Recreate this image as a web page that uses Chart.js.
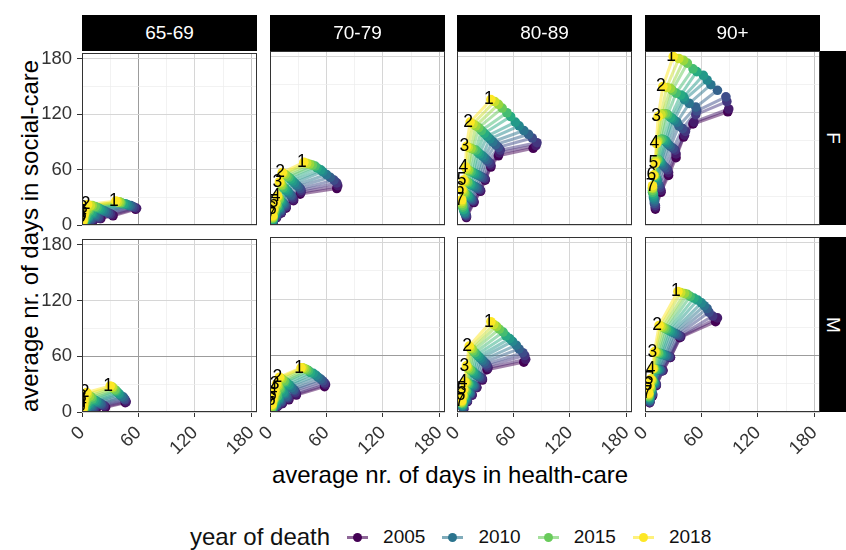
<!DOCTYPE html>
<html>
<head>
<meta charset="utf-8">
<script src="https://cdn.jsdelivr.net/npm/chart.js@4.4.1/dist/chart.umd.min.js"></script>
<style>
  body { margin:0; background:#fff; width:846px; height:550px; overflow:hidden; position:relative;
         font-family:"Liberation Sans", Arial, sans-serif; }
  canvas.pc { position:absolute; }
  .strip { position:absolute; background:#000; color:#fff; font-size:19px;
           display:flex; align-items:center; justify-content:center; }
  .strip span.rot { display:inline-block; transform:rotate(90deg); }
  .title { position:absolute; font-size:24px; color:#000; white-space:nowrap; text-align:center; }
  #legend { position:absolute; left:190px; top:523px; height:28px; display:flex; align-items:center;
            font-size:19px; color:#111; white-space:nowrap; }
  #legend .lt { font-size:24px; }
  #legend .key { position:relative; width:21px; height:20px; margin-left:17px; }
  #legend .key i { position:absolute; left:0; top:9px; width:21px; height:2.5px; }
  #legend .key b { position:absolute; left:6px; top:6px; width:9px; height:9px; border-radius:50%; }
  #legend .lab { margin-left:15px; }
</style>
</head>
<body>
<div class="title" style="left:250px;top:461px;width:400px;">average nr. of days in health-care</div>
<div class="title" style="left:-170px;top:222px;width:400px;transform:rotate(-90deg);">average nr. of days in social-care</div>
<div id="legend"></div>

<script>
// facets
const ageGroups = ['65-69', '70-79', '80-89', '90+'];
const sexes = ['F', 'M'];
const years = [2005, 2006, 2007, 2008, 2009, 2010, 2011, 2012, 2013, 2014, 2015, 2016, 2017, 2018];
const monthLabels = ['1', '2', '3', '4', '5', '6', '7'];
const gridValues = [0, 30, 60, 90, 120, 150, 180];
const tickLabels = [0, 60, 120, 180];
const legendYears = [2005, 2010, 2015, 2018];

// one row per month before death (1..7), one value per year 2005..2018
const F65_x = [
  [57,58,56,54,52,50,48,46,44,42,41,40,38,36],
  [33,32,30,28,26,24,22,20,18,16,14,11,9,6],
  [20,19,18,17,15,14,12,11,10,8,7,6,4,3],
  [12,12,11,10,9,8,7,7,6,5,4,3,3,2],
  [7,7,7,6,6,5,5,4,4,3,3,2,2,2],
  [4,4,4,4,3,3,3,3,2,2,2,2,1,1],
  [2,2,2,2,2,2,2,1,1,1,1,1,1,1]];
const F65_y = [
  [17,18,19,20,21,21,22,23,23,24,24,25,25,26],
  [10,11,12,13,14,15,16,17,18,19,20,21,21,22],
  [7,7,8,9,10,11,12,13,14,15,16,17,17,18],
  [5,5,6,6,7,8,8,9,10,11,12,13,13,14],
  [3,3,4,4,5,5,6,6,7,7,8,9,10,11],
  [2,2,2,3,3,3,4,4,4,5,5,6,7,8],
  [1,1,1,1,1,2,2,2,2,3,3,3,4,5]];

const F70_x = [
  [71,72,71,68,64,60,56,54,50,48,45,42,39,36],
  [32,33,33,32,30,28,26,24,22,20,18,16,14,13],
  [25,25,24,23,22,20,19,17,16,14,13,12,11,10],
  [17,17,17,16,15,14,13,12,11,10,10,9,8,8],
  [12,12,12,11,11,10,10,9,8,8,7,7,6,6],
  [7,7,7,7,6,6,6,5,5,5,5,4,4,4],
  [3,3,3,3,3,3,3,3,3,3,3,3,3,3]];
const F70_y = [
  [39,42,45,48,51,54,57,59,61,63,64,65,66,67],
  [33,35,37,39,41,43,45,47,49,51,52,54,55,56],
  [26,27,29,31,32,34,36,37,39,40,42,43,45,46],
  [18,19,20,21,22,23,24,25,26,27,28,29,30,31],
  [13,13,14,15,16,17,18,18,19,20,21,22,23,24],
  [8,8,9,10,10,11,12,12,13,14,15,15,16,17],
  [2,2,3,3,4,4,5,5,6,7,7,8,9,10]];

const F80_x = [
  [81,84,85,80,76,71,66,62,57,53,48,44,40,36],
  [44,45,46,44,41,38,35,32,29,26,23,20,17,14],
  [36,36,35,33,31,29,27,24,22,20,17,15,12,10],
  [30,30,29,27,25,23,21,19,17,15,13,12,10,9],
  [25,25,24,22,21,19,17,15,14,12,11,9,8,7],
  [18,18,17,16,15,14,13,12,11,9,8,7,6,5],
  [10,10,10,9,9,8,8,7,7,6,6,5,5,5]];
const F80_y = [
  [82,85,88,93,97,101,106,110,116,120,125,129,132,134],
  [74,77,80,83,86,89,92,95,98,101,104,106,108,110],
  [62,64,66,68,70,72,74,76,78,80,81,82,83,84],
  [48,49,50,51,52,53,54,55,56,57,58,59,60,62],
  [36,37,38,39,40,41,42,43,44,45,46,46,47,48],
  [24,25,26,27,28,29,30,31,32,33,34,35,37,38],
  [8,9,10,11,12,13,14,16,17,19,21,23,25,27]];

const F90_x = [
  [88,89,87,86,77,70,66,62,55,51,45,41,36,30],
  [51,52,54,55,54,47,42,41,38,33,29,27,23,19],
  [41,42,43,40,36,34,31,29,27,24,22,19,17,14],
  [33,33,32,30,27,25,23,22,20,18,16,14,13,12],
  [25,25,24,22,20,18,17,16,15,14,13,12,11,11],
  [17,17,16,15,14,13,13,12,11,11,10,10,9,9],
  [11,11,11,10,10,10,9,9,9,8,8,8,8,8]];
const F90_y = [
  [121,124,132,137,144,150,155,160,164,167,173,176,178,180],
  [108,110,118,122,126,130,134,137,139,141,144,146,147,148],
  [94,96,100,103,106,110,112,114,115,118,119,119,118,116],
  [72,76,80,82,84,86,88,90,91,92,91,90,89,87],
  [53,56,59,61,63,65,67,68,69,70,70,69,68,66],
  [35,37,40,42,44,46,48,50,51,52,53,53,53,53],
  [17,19,21,23,25,27,29,31,33,35,37,39,40,42]];

const M65_x = [
  [46,47,46,45,44,42,40,39,37,36,35,33,32,30],
  [25,24,23,21,20,18,16,15,13,11,10,8,6,5],
  [15,14,13,12,11,10,9,8,7,6,5,4,3,2],
  [9,9,8,8,7,6,6,5,5,4,3,3,2,2],
  [5,5,5,5,4,4,4,3,3,3,2,2,2,1],
  [3,3,3,3,3,2,2,2,2,2,2,1,1,1],
  [1,1,1,1,1,1,1,1,1,1,1,1,1,1]];
const M65_y = [
  [10,11,13,14,16,17,19,20,22,23,24,26,27,28],
  [5,6,7,8,9,10,11,12,13,14,16,17,19,21],
  [3,4,4,5,6,7,8,9,10,11,12,13,14,16],
  [2,2,3,3,4,5,5,6,7,8,9,10,11,12],
  [1,1,2,2,2,3,3,4,5,5,6,7,8,9],
  [1,1,1,1,2,2,2,3,3,3,4,4,5,6],
  [0,0,1,1,1,1,1,2,2,2,2,3,3,4]];

const M70_x = [
  [58,59,58,56,54,51,49,46,43,41,39,37,35,33],
  [28,28,27,26,25,23,21,20,18,16,15,13,11,10],
  [20,20,19,18,17,16,15,14,12,11,10,9,8,7],
  [13,13,12,12,11,10,10,9,8,8,7,6,6,5],
  [8,8,8,7,7,7,6,6,6,5,5,5,4,4],
  [4,4,4,4,4,4,4,4,3,3,3,3,3,3],
  [2,2,2,2,2,2,2,2,2,2,2,2,2,2]];
const M70_y = [
  [27,29,31,33,35,37,39,41,42,44,45,46,47,47],
  [18,19,21,23,24,26,28,29,31,32,33,35,36,37],
  [13,14,15,16,17,19,20,21,23,24,25,27,28,30],
  [9,9,10,11,12,13,14,15,16,17,19,20,21,23],
  [6,6,7,7,8,9,10,11,12,13,14,15,16,18],
  [3,3,4,4,5,5,6,7,8,8,9,10,12,13],
  [1,1,1,2,2,2,3,3,4,4,5,6,7,8]];

const M80_x = [
  [71,73,72,70,66,63,59,56,52,49,45,42,39,36],
  [32,33,32,31,29,27,25,23,21,19,17,16,14,13],
  [27,27,26,24,23,21,20,18,17,15,14,12,11,10],
  [21,21,20,19,18,17,16,14,13,12,11,10,9,8],
  [16,16,15,14,14,13,12,11,10,10,9,8,7,7],
  [11,11,11,10,10,9,9,8,8,7,7,7,6,6],
  [7,7,7,7,6,6,6,6,6,6,5,5,5,5]];
const M80_y = [
  [53,56,60,63,67,71,75,78,81,85,88,91,93,96],
  [45,47,49,51,53,55,57,59,61,63,65,67,68,70],
  [34,35,36,37,38,39,40,41,43,44,45,46,48,49],
  [26,26,27,27,28,28,29,29,30,30,31,31,32,32],
  [18,18,19,19,20,20,21,21,22,22,23,23,24,24],
  [11,11,12,12,13,13,14,14,15,16,16,17,17,18],
  [3,3,4,5,5,6,7,7,8,9,10,10,11,12]];

const M90_x = [
  [75,77,72,68,66,63,60,56,52,48,45,42,38,35],
  [37,38,37,35,33,31,29,27,25,23,21,19,17,15],
  [27,27,26,25,23,22,20,18,17,15,14,12,11,10],
  [19,19,18,17,16,15,14,13,12,11,10,9,9,8],
  [12,12,12,11,11,10,10,9,9,8,8,7,7,6],
  [8,8,8,8,7,7,7,7,6,6,6,6,5,5],
  [5,5,5,5,5,5,5,5,4,4,4,4,4,4]];
const M90_y = [
  [96,100,102,106,110,113,116,119,121,123,125,126,127,128],
  [79,80,81,82,83,84,85,86,87,88,89,90,91,92],
  [58,58,59,59,60,60,61,61,62,62,63,63,64,64],
  [44,44,44,44,45,45,45,45,45,45,46,46,46,46],
  [28,29,29,30,30,31,31,32,32,33,33,34,34,35],
  [17,18,19,19,20,21,22,23,24,24,25,26,27,28],
  [10,10,11,11,12,13,14,15,16,16,17,18,19,20]];

const panelData = {
  F: [[F65_x, F65_y], [F70_x, F70_y], [F80_x, F80_y], [F90_x, F90_y]],
  M: [[M65_x, M65_y], [M70_x, M70_y], [M80_x, M80_y], [M90_x, M90_y]],
};

// layout (px)
const colLeft = [82, 270, 457, 645];
const rowTop = [51, 237];
const panelW = 175;
const panelH = [174, 175];
const AX_W = 50, AX_H = 50, PAD_T = 14, PAD_R = 20;
const AX_MAX = 186;

Chart.defaults.font.family = '"Liberation Sans", Arial, sans-serif';

// viridis
const VIR = ['#440154','#472D7B','#3B528B','#2C728E','#21908C','#27AD81','#5DC863','#AADC32','#FDE725'];
function hexRgb(h){ return [1,3,5].map(i => parseInt(h.slice(i, i+2), 16)); }
function viridis(t, a){
  const p = t * 8, i = Math.min(7, Math.floor(p)), f = p - i;
  const c0 = hexRgb(VIR[i]), c1 = hexRgb(VIR[i+1]);
  const c = c0.map((v, j) => Math.round(v + (c1[j] - v) * f));
  return `rgba(${c[0]},${c[1]},${c[2]},${a})`;
}
const yearColor = (y, a) => viridis((y - years[0]) / (years[years.length-1] - years[0]), a);

function gridColor(axis, v, row, col){
  if (axis === 'x' && v === 60 && col === 0) return '#9c9c9c';
  if (axis === 'y' && v === 60 && row === 1) return '#9c9c9c';
  if (axis === 'x' && v === 180) return '#c4c4c4';
  return tickLabels.includes(v) ? '#d6d6d6' : '#ececec';
}

const panelBorder = {
  id: 'panelBorder',
  afterDraw(chart){
    const a = chart.chartArea, ctx = chart.ctx;
    ctx.save();
    ctx.strokeStyle = '#333';
    ctx.lineWidth = 1;
    ctx.strokeRect(Math.round(a.left) + 0.5, Math.round(a.top) + 0.5,
                   Math.round(a.right - a.left) - 1, Math.round(a.bottom - a.top) - 1);
    ctx.restore();
  }
};

// month numbers written at the 2018 points
const monthText = {
  id: 'monthText',
  afterDatasetsDraw(chart){
    const idx = chart.data.datasets.findIndex(d => d.kind === 'pt' && d.year === years[years.length-1]);
    const meta = chart.getDatasetMeta(idx);
    const ctx = chart.ctx, a = chart.chartArea;
    ctx.save();
    ctx.beginPath();
    ctx.rect(a.left, a.top, a.right - a.left, a.bottom - a.top);
    ctx.clip();
    ctx.fillStyle = '#000';
    ctx.font = '17.5px "Liberation Sans", Arial, sans-serif';
    ctx.textAlign = 'center';
    ctx.textBaseline = 'middle';
    meta.data.forEach((p, k) => ctx.fillText(monthLabels[k], p.x - 2, p.y));
    ctx.restore();
  }
};

function makePanel(row, col){
  const sex = sexes[row];
  const [X, Y] = panelData[sex][col];
  const H = panelH[row];
  const cv = document.createElement('canvas');
  cv.className = 'pc';
  cv.width = AX_W + panelW + PAD_R;
  cv.height = PAD_T + H + AX_H;
  cv.style.left = (colLeft[col] - AX_W) + 'px';
  cv.style.top = (rowTop[row] - PAD_T) + 'px';
  document.body.appendChild(cv);

  const datasets = [];
  years.forEach((yr, i) => {
    const pts = monthLabels.map((m, k) => ({ x: X[k][i], y: Y[k][i] }));
    datasets.push({ kind: 'ln', year: yr, data: pts, showLine: true, pointRadius: 0,
      borderColor: yearColor(yr, 0.5), borderWidth: 3, order: 100 + (years.length - i), clip: 0 });
    datasets.push({ kind: 'pt', year: yr, data: pts, showLine: false, pointRadius: 4.8, borderWidth: 0,
      backgroundColor: yearColor(yr, 1), order: years.length - 1 - i, clip: 0 });
  });

  const showX = row === 1, showY = col === 0;
  const axis = (id, show) => ({
    type: 'linear', min: 0, max: AX_MAX,
    afterBuildTicks: s => { s.ticks = gridValues.map(v => ({ value: v })); },
    afterFit: s => { if (id === 'x') s.height = AX_H; else s.width = AX_W; },
    border: { display: false },
    grid: {
      color: c => gridColor(id, c.tick.value, row, col),
      lineWidth: c => tickLabels.includes(c.tick.value) ? 1 : 0.7,
      drawTicks: show, tickLength: 5,
      tickColor: c => tickLabels.includes(c.tick.value) ? '#333' : 'rgba(0,0,0,0)',
    },
    ticks: {
      display: show, autoSkip: false, padding: 5, color: '#333',
      font: { size: 18.5 },
      minRotation: id === 'x' ? 45 : 0, maxRotation: id === 'x' ? 45 : 0,
      callback: v => tickLabels.includes(v) ? String(v) : '',
    },
  });

  new Chart(cv, {
    type: 'scatter',
    data: { datasets },
    options: {
      responsive: false, animation: false, devicePixelRatio: 1, events: [],
      layout: { padding: { top: PAD_T, right: PAD_R, left: 0, bottom: 0 } },
      scales: { x: axis('x', showX), y: axis('y', showY) },
      plugins: { legend: { display: false }, tooltip: { enabled: false } },
    },
    plugins: [monthText, panelBorder],
  });
}

for (let r = 0; r < sexes.length; r++)
  for (let c = 0; c < ageGroups.length; c++) makePanel(r, c);

// strips
ageGroups.forEach((g, c) => {
  const s = document.createElement('div');
  s.className = 'strip';
  s.style.cssText = `left:${colLeft[c]}px;top:15px;width:${panelW}px;height:36px;`;
  s.textContent = g;
  document.body.appendChild(s);
});
sexes.forEach((sx, r) => {
  const s = document.createElement('div');
  s.className = 'strip';
  s.style.cssText = `left:820px;top:${rowTop[r]}px;width:26px;height:${panelH[r]}px;`;
  s.innerHTML = `<span class="rot">${sx}</span>`;
  document.body.appendChild(s);
});

// legend
const lg = document.getElementById('legend');
lg.innerHTML = '<span class="lt">year of death</span>' + legendYears.map(y =>
  `<span class="key"><i style="background:${yearColor(y, 0.6)}"></i><b style="background:${yearColor(y, 1)}"></b></span><span class="lab">${y}</span>`
).join('');
</script>
</body>
</html>
